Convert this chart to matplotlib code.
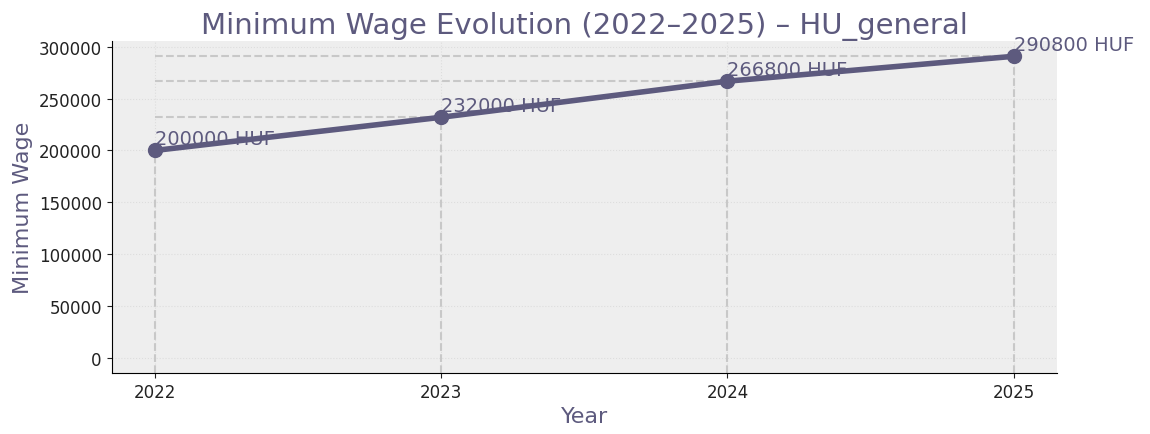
import matplotlib
matplotlib.use("Agg")
import matplotlib.pyplot as plt

years = [2022, 2023, 2024, 2025]
wages = [200000, 232000, 266800, 290800]
labels = [f"{w} HUF" for w in wages]

c = "#5d5a7e"
fig = plt.figure(figsize=(11.5, 4.35), dpi=100)
ax = fig.add_axes([0.097, 0.14, 0.822, 0.763])
ax.set_facecolor("#eeeeee")
ax.grid(True, color="#dddddd", linestyle=":", linewidth=0.8)
ax.set_axisbelow(True)
ax.set_xlim(2021.85, 2025.15)
ax.set_ylim(-14540, 305340)
for x, y in zip(years, wages):
    ax.plot([x, x], [-14540, y], ls="--", color="#c8c8c8", lw=1.5, zorder=1)
    ax.plot([years[0], x], [y, y], ls="--", color="#c8c8c8", lw=1.5, zorder=1)
ax.plot(years, wages, color=c, lw=4, marker="o", ms=10, zorder=3)
for x, y, t in zip(years, wages, labels):
    ax.text(x, y + 2500, t, color=c, fontsize=14, ha="left", va="bottom", zorder=4)
ax.set_xticks(years)
ax.set_yticks(range(0, 300001, 50000))
ax.tick_params(labelsize=12, colors="#222222")
for s in ["top", "right"]:
    ax.spines[s].set_visible(False)
ax.set_title("Minimum Wage Evolution (2022–2025) – HU_general", fontsize=21, color=c)
ax.set_xlabel("Year", fontsize=16, color=c)
ax.set_ylabel("Minimum Wage", fontsize=16, color=c)
fig.savefig("out.png")
